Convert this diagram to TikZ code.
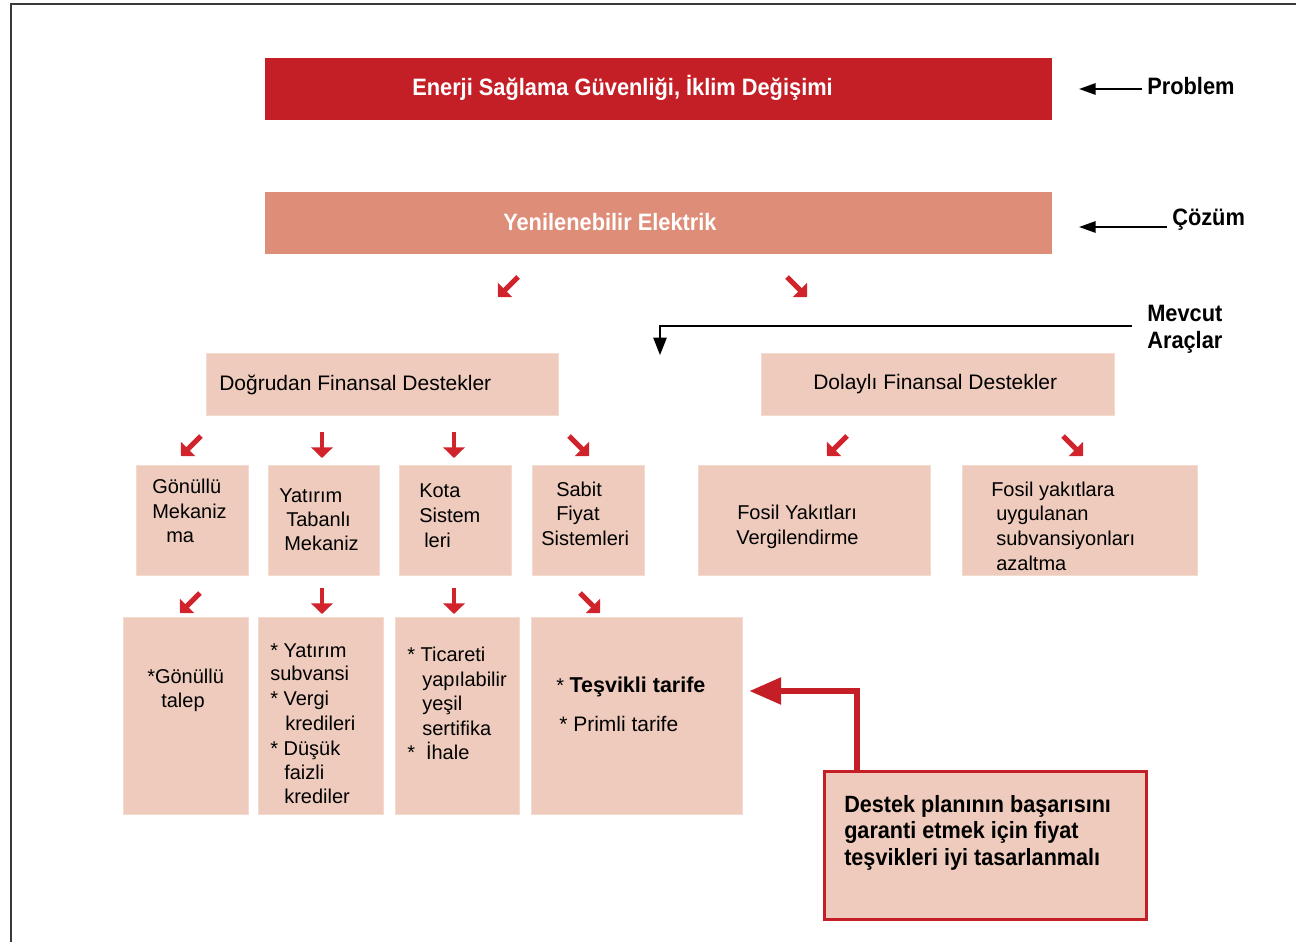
\documentclass[tikz,border=0pt]{standalone}
\usepackage{fontspec}
\setmainfont{Liberation Sans}
\newfontfamily\narrowfont[FakeStretch=0.92]{Liberation Sans}
\usetikzlibrary{arrows.meta}
\definecolor{titlered}{HTML}{C41F27}
\definecolor{arrowred}{HTML}{D0232C}
\definecolor{salmon}{HTML}{DE8D78}
\definecolor{pale}{HTML}{EECBBC}
\definecolor{paleedge}{HTML}{F4DBD0}
\definecolor{framegray}{HTML}{3A3A3A}
\newcommand\fs[1]{\fontsize{\fpeval{#1*0.75}pt}{\fpeval{#1*0.9}pt}\selectfont}
\newcommand\mybox[6]{\node[#6, anchor=north west, inner sep=0pt, minimum width={(#4-#2)*0.75pt}, minimum height={(#5-#3)*0.75pt}] (#1) at (#2,#3) {};}
\newcommand\mylines[3]{\foreach \xx/\yy/\lt [count=\i] in {#3} {\node[txt,#2] (#1-\i) at (\xx,\yy) {\lt};}}
\newcommand\redarr[6]{\coordinate (#1-s) at (#2,#3); \coordinate (#1-e) at (#4,#5); \draw[#6] (#1-s) -- (#1-e);}
\tikzset{
  palebox/.style={fill=pale, draw=paleedge, line width=0.6pt},
  txt/.style={inner sep=0pt, anchor=base west, font=\fs{20}},
  boldlbl/.style={inner sep=0pt, anchor=base west, font=\narrowfont\bfseries\fs{23.7}},
  diagarrow/.style={draw=arrowred, line width=3.8pt, -{Triangle[length=7.5pt,width=15pt]}, fill=arrowred},
  downarrow/.style={draw=arrowred, line width=3.2pt, -{Triangle[length=8pt,width=16pt]}, fill=arrowred},
  blackarrow/.style={draw=black, line width=1.5pt, -{Triangle[length=12.5pt,width=8.5pt]}},
  thinarrow/.style={draw=black, line width=1.1pt, -{Triangle[length=13pt,width=10pt]}},
  bigarrow/.style={draw=titlered, line width=5.2pt, -{Triangle[length=24pt,width=19pt]}},
  frame/.style={draw=framegray, line width=1.8pt}
}
\begin{document}
\begin{tikzpicture}[x=0.75pt,y=-0.75pt]
\useasboundingbox (0,0) rectangle (1296,942);
\fill[white] (0,0) rectangle (1296,942);
% frame
\coordinate (fTL) at (11,4); \coordinate (fTR) at (1296,4); \coordinate (fBL) at (11,942);
\draw[frame] (fBL) -- (fTL) -- (fTR);
% boxes
\mybox{prob}{265}{58}{1052}{120}{fill=titlered}
\mybox{sol}{265}{192}{1052}{254}{fill=salmon}
\mybox{direct}{206}{353}{558}{415}{palebox}
\mybox{indirect}{761}{353}{1114}{415}{palebox}
\mybox{gon}{136}{465}{248}{575}{palebox}
\mybox{yat}{268}{465}{379}{575}{palebox}
\mybox{kota}{399}{465}{511}{575}{palebox}
\mybox{sabit}{532}{465}{644}{575}{palebox}
\mybox{fosa}{698}{465}{930}{575}{palebox}
\mybox{fosb}{962}{465}{1197}{575}{palebox}
\mybox{gonb}{123}{617}{248}{814}{palebox}
\mybox{yatb}{258}{617}{383}{814}{palebox}
\mybox{kotab}{395}{617}{519}{814}{palebox}
\mybox{sabitb}{531}{617}{742}{814}{palebox}
\mybox{destek}{823}{770}{1145}{918}{fill=pale, draw=titlered, line width=2.3pt}
% titles
\node[boldlbl, text=white] (probtxt) at (412,95) {Enerji Sağlama Güvenliği, İklim Değişimi};
\node[boldlbl, text=white] (soltxt) at (503,230) {Yenilenebilir Elektrik};
\node[boldlbl] (problbl) at (1147,94) {Problem};
\node[boldlbl] (sollbl) at (1172,225) {Çözüm};
\node[boldlbl] (mevlbl) at (1147,321) {Mevcut};
\node[boldlbl] (aralbl) at (1147,348) {Araçlar};
% label arrows
\coordinate (pTip) at (1079,89);
\draw[blackarrow] ([xshift=-4pt]problbl.west |- pTip) -- (pTip);
\coordinate (sTip) at (1079,227);
\draw[blackarrow] ([xshift=-4pt]sollbl.west |- sTip) -- (sTip);
\coordinate (mBend) at (660,326); \coordinate (mTip) at (660,355);
\draw[thinarrow] ([xshift=-11pt]mevlbl.west |- mBend) -- (mBend) -- (mTip);
% second level texts
\node[txt, font=\fs{21}] (directtxt) at (219,390) {Doğrudan Finansal Destekler};
\node[txt, font=\fs{21}] (indirecttxt) at (813,389) {Dolaylı Finansal Destekler};
% row 3 texts
\mylines{gont}{}{152/493/Gönüllü, 152/518/Mekaniz, 166/542/ma}
\mylines{yatt}{}{279/502/Yatırım, 286/526/Tabanlı, 284/550/Mekaniz}
\mylines{kotat}{}{419/497/Kota, 419/522/Sistem, 424/547/leri}
\mylines{sabitt}{}{556/496/Sabit, 556/520/Fiyat, 541/545/Sistemleri}
\mylines{fosat}{}{737/519/Fosil Yakıtları, 736/544/Vergilendirme}
\mylines{fosbt}{}{991/496/Fosil yakıtlara, 996/520/uygulanan, 996/545/subvansiyonları, 996/570/azaltma}
% row 4 texts
\mylines{gonbt}{}{147/683/*Gönüllü, 161/707/talep}
\mylines{yatbt}{}{270/657/* Yatırım, 270/680/subvansi, 270/705/* Vergi, 285/730/kredileri, 270/755/* Düşük, 284/779/faizli, 284/803/krediler}
\mylines{kotabt}{}{407/661/* Ticareti, 422/686/yapılabilir, 422/710/yeşil, 422/735/sertifika, 407/759/{*\hspace{0.55em}İhale}}
\node[txt] (tesvik) at (556,692) {{\fs{20}*} {\bfseries\fs{21.5}Teşvikli tarife}};
\node[txt, font=\fs{21}] (primli) at (559,731) {* Primli tarife};
\mylines{destekt}{font=\narrowfont\bfseries\fs{23.5}}{844/812/Destek planının başarısını, 844/838/garanti etmek için fiyat, 844/865/teşvikleri iyi tasarlanmalı}
% small red arrows
\redarr{aA}{518}{277}{498}{297}{diagarrow}
\redarr{aB}{787}{277}{807}{297}{diagarrow}
\redarr{aC}{201}{436}{181}{456}{diagarrow}
\redarr{aD}{322}{432}{322}{458}{downarrow}
\redarr{aE}{454}{432}{454}{458}{downarrow}
\redarr{aF}{569}{436}{589}{456}{diagarrow}
\redarr{aG}{847}{436}{827}{456}{diagarrow}
\redarr{aH}{1063}{436}{1083}{456}{diagarrow}
\redarr{aI}{200}{593}{180}{613}{diagarrow}
\redarr{aJ}{322}{588}{322}{614}{downarrow}
\redarr{aK}{454}{588}{454}{614}{downarrow}
\redarr{aL}{580}{593}{600}{613}{diagarrow}
% big red arrow
\coordinate (bigTip) at (749,691); \coordinate (bigX) at (857,0);
\draw[bigarrow] (destek.north -| bigX) |- (bigTip);
\end{tikzpicture}
\end{document}
